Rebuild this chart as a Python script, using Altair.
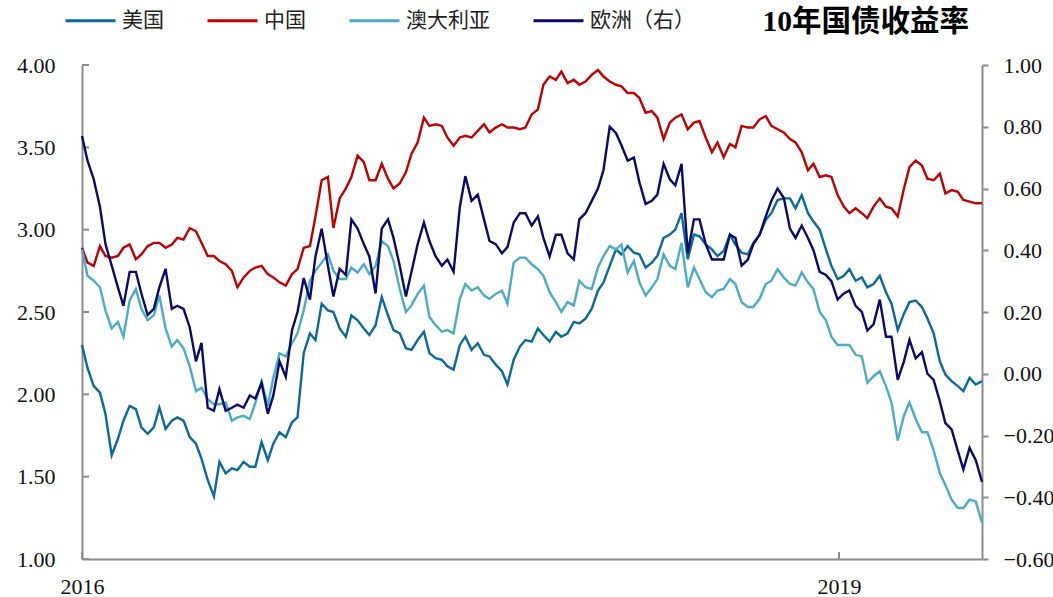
import altair as alt
import pandas as pd

# ---- data ----
dates = pd.date_range("2016-01-01", "2019-07-27", periods=151).strftime("%Y-%m-%d").tolist()

us = [2.30, 2.16, 2.05, 2.01, 1.88, 1.63, 1.73, 1.84, 1.93, 1.91,
      1.80, 1.76, 1.80, 1.92, 1.79, 1.84, 1.86, 1.84, 1.74, 1.70,
      1.61, 1.48, 1.38, 1.59, 1.52, 1.55, 1.54, 1.59, 1.56, 1.56,
      1.71, 1.60, 1.70, 1.77, 1.74, 1.83, 1.86, 2.25, 2.37, 2.33,
      2.55, 2.51, 2.50, 2.40, 2.35, 2.48, 2.45, 2.40, 2.36, 2.42,
      2.59, 2.48, 2.39, 2.37, 2.28, 2.27, 2.33, 2.38, 2.25, 2.22,
      2.21, 2.17, 2.15, 2.30, 2.35, 2.27, 2.31, 2.24, 2.23, 2.18,
      2.14, 2.06, 2.21, 2.29, 2.33, 2.32, 2.40, 2.36, 2.32, 2.38,
      2.35, 2.37, 2.44, 2.43, 2.46, 2.52, 2.63, 2.68, 2.78, 2.88,
      2.85, 2.90, 2.86, 2.85, 2.77, 2.80, 2.84, 2.95, 2.97, 3.00,
      3.10, 2.82, 2.97, 2.96, 2.91, 2.88, 2.84, 2.87, 2.97, 2.91,
      2.86, 2.85, 2.92, 2.97, 3.06, 3.10, 3.18, 3.19, 3.19, 3.13,
      3.21, 3.10, 3.05, 3.00, 2.88, 2.78, 2.70, 2.72, 2.76, 2.69,
      2.71, 2.65, 2.67, 2.72, 2.62, 2.55, 2.39, 2.49, 2.56, 2.57,
      2.53, 2.46, 2.37, 2.20, 2.12, 2.08, 2.05, 2.02, 2.10, 2.06,
      2.08]

china = [2.89, 2.80, 2.78, 2.90, 2.84, 2.83, 2.84, 2.89, 2.91, 2.82,
         2.85, 2.90, 2.92, 2.92, 2.89, 2.91, 2.95, 2.94, 3.01, 2.99,
         2.92, 2.84, 2.84, 2.81, 2.79, 2.75, 2.65, 2.71, 2.75, 2.77,
         2.78, 2.73, 2.71, 2.68, 2.66, 2.73, 2.76, 2.89, 2.90, 3.08,
         3.30, 3.32, 3.01, 3.19, 3.25, 3.32, 3.45, 3.41, 3.30, 3.30,
         3.40, 3.31, 3.25, 3.28, 3.35, 3.46, 3.53, 3.68, 3.63, 3.64,
         3.63, 3.56, 3.51, 3.56, 3.57, 3.56, 3.60, 3.64, 3.59, 3.62,
         3.64, 3.62, 3.62, 3.61, 3.62, 3.70, 3.73, 3.88, 3.93, 3.91,
         3.96, 3.89, 3.91, 3.88, 3.90, 3.94, 3.97, 3.93, 3.90, 3.88,
         3.87, 3.83, 3.83, 3.80, 3.71, 3.72, 3.68, 3.55, 3.65, 3.68,
         3.70, 3.61, 3.65, 3.66, 3.56, 3.47, 3.53, 3.44, 3.52, 3.50,
         3.63, 3.62, 3.62, 3.67, 3.69, 3.63, 3.61, 3.59, 3.55, 3.53,
         3.47, 3.36, 3.40, 3.32, 3.33, 3.32, 3.21, 3.14, 3.10, 3.13,
         3.10, 3.07, 3.14, 3.19, 3.14, 3.13, 3.08, 3.25, 3.38, 3.42,
         3.39, 3.31, 3.30, 3.34, 3.22, 3.24, 3.23, 3.18, 3.17, 3.16,
         3.16]

australia = [2.88, 2.72, 2.69, 2.65, 2.51, 2.40, 2.44, 2.35, 2.57, 2.64,
             2.52, 2.45, 2.48, 2.60, 2.40, 2.29, 2.33, 2.28, 2.17, 2.02,
             2.04, 1.97, 1.94, 1.94, 1.95, 1.84, 1.86, 1.87, 1.85, 1.95,
             2.08, 1.93, 2.10, 2.25, 2.23, 2.31, 2.37, 2.51, 2.69, 2.75,
             2.80, 2.85, 2.75, 2.70, 2.70, 2.77, 2.74, 2.79, 2.73, 2.78,
             2.93, 2.90, 2.81, 2.64, 2.50, 2.54, 2.61, 2.66, 2.47, 2.42,
             2.38, 2.39, 2.37, 2.58, 2.67, 2.63, 2.65, 2.60, 2.58, 2.61,
             2.63, 2.55, 2.80, 2.83, 2.83, 2.79, 2.76, 2.72, 2.62, 2.56,
             2.50, 2.56, 2.54, 2.69, 2.65, 2.64, 2.77, 2.84, 2.90, 2.88,
             2.91, 2.74, 2.81, 2.68, 2.60, 2.65, 2.70, 2.85, 2.78, 2.76,
             2.92, 2.65, 2.77, 2.70, 2.62, 2.59, 2.63, 2.64, 2.70, 2.67,
             2.56, 2.53, 2.53, 2.58, 2.67, 2.69, 2.76, 2.71, 2.67, 2.66,
             2.74, 2.68, 2.64, 2.50, 2.45, 2.35, 2.30, 2.30, 2.30, 2.24,
             2.23, 2.07, 2.11, 2.14, 2.05, 1.95, 1.72, 1.87, 1.95, 1.85,
             1.77, 1.77, 1.66, 1.52, 1.45, 1.36, 1.31, 1.31, 1.36, 1.35,
             1.22]

europe = [0.77, 0.69, 0.63, 0.54, 0.42, 0.35, 0.28, 0.22, 0.33, 0.33,
          0.26, 0.19, 0.21, 0.28, 0.34, 0.21, 0.22, 0.21, 0.15, 0.04,
          0.10, -0.11, -0.12, -0.05, -0.12, -0.11, -0.10, -0.11, -0.07, -0.08,
          -0.03, -0.13, -0.07, 0.04, -0.01, 0.14, 0.20, 0.31, 0.24, 0.38,
          0.47, 0.35, 0.25, 0.34, 0.32, 0.50, 0.47, 0.42, 0.38, 0.26,
          0.47, 0.50, 0.44, 0.35, 0.25, 0.33, 0.42, 0.49, 0.43, 0.38,
          0.35, 0.37, 0.33, 0.54, 0.64, 0.56, 0.58, 0.50, 0.43, 0.42,
          0.39, 0.41, 0.49, 0.52, 0.52, 0.48, 0.51, 0.44, 0.38, 0.45,
          0.45, 0.39, 0.37, 0.50, 0.52, 0.56, 0.60, 0.66, 0.80, 0.78,
          0.74, 0.69, 0.70, 0.62, 0.55, 0.56, 0.58, 0.68, 0.63, 0.61,
          0.68, 0.39, 0.50, 0.50, 0.42, 0.37, 0.37, 0.37, 0.45, 0.44,
          0.35, 0.37, 0.42, 0.45, 0.51, 0.56, 0.60, 0.57, 0.47, 0.44,
          0.48, 0.44, 0.40, 0.33, 0.32, 0.30, 0.24, 0.26, 0.27, 0.22,
          0.20, 0.14, 0.16, 0.24, 0.12, 0.12, -0.02, 0.04, 0.11, 0.05,
          0.07, 0.00, -0.02, -0.09, -0.16, -0.18, -0.25, -0.31, -0.24, -0.28,
          -0.35]

series_names = ["美国", "中国", "澳大利亚", "欧洲（右）"]
series_colors = ["#0b6a9c", "#c00000", "#4bacc6", "#0a0a6e"]
left_ticks = [1.0, 1.5, 2.0, 2.5, 3.0, 3.5, 4.0]
right_ticks = [-0.6, -0.4, -0.2, 0.0, 0.2, 0.4, 0.6, 0.8, 1.0]
x_tick_dates = ["2016-01-01", "2019-01-01"]
title_text = ["10年国债收益率"]

# ---- frames ----
left_df = pd.DataFrame({
    "date": dates * 3,
    "value": us + china + australia,
    "series": [series_names[0]] * len(us) + [series_names[1]] * len(china) + [series_names[2]] * len(australia),
})
right_df = pd.DataFrame({"date": dates, "value": europe, "series": series_names[3]})
left_tick_df = pd.DataFrame({"v": left_ticks})
x_tick_df = pd.DataFrame({"d": x_tick_dates})
title_df = pd.DataFrame({"t": title_text})

NUM_FONT = "Liberation Serif"
CJK_FONT = "Liberation Serif, Noto Sans CJK SC"
AXIS_GRAY = "#8c8c8c"

x_scale = alt.Scale(type="utc",
                    domain=[alt.DateTime(year=2016, month=1, date=1, utc=True),
                            alt.DateTime(year=2019, month=7, date=27, utc=True)])
x_axis = alt.Axis(values=[alt.DateTime(year=2016, month=1, date=1, utc=True),
                          alt.DateTime(year=2019, month=1, date=1, utc=True)],
                  format="%Y", title=None, ticks=False, grid=False,
                  labelFlush=False, labelPadding=17, labelFont=NUM_FONT,
                  labelFontSize=22, labelColor="#111111",
                  domainColor=AXIS_GRAY, domainWidth=2)

left_scale = alt.Scale(domain=[1.0, 4.0], nice=False, zero=False)
left_axis = alt.Axis(values=left_ticks, format=".2f", title=None, grid=False,
                     ticks=False, labelPadding=27, labelFont=NUM_FONT,
                     labelFontSize=22, labelColor="#111111",
                     domainColor=AXIS_GRAY, domainWidth=2)
right_scale = alt.Scale(domain=[-0.6, 1.0], nice=False, zero=False)
right_axis = alt.Axis(orient="right", values=right_ticks, format=".2f", title=None,
                      grid=False, tickSize=6, tickWidth=2, tickColor=AXIS_GRAY,
                      labelPadding=15, labelFont=NUM_FONT, labelFontSize=22,
                      labelColor="#111111", domainColor=AXIS_GRAY, domainWidth=2)

legend = alt.Legend(title=None, orient="none", legendX=-18, legendY=-71,
                    direction="horizontal", symbolType="stroke", symbolSize=2500,
                    symbolStrokeWidth=3, labelFont=CJK_FONT, labelFontSize=21,
                    labelColor="#222222", columnPadding=37, labelOffset=5,
                    padding=0, labelLimit=300)
color = alt.Color("series:N", scale=alt.Scale(domain=series_names, range=series_colors),
                  sort=series_names, legend=legend)

left_lines = alt.Chart(left_df).mark_line(strokeWidth=2.4).encode(
    x=alt.X("date:T", scale=x_scale, axis=x_axis),
    y=alt.Y("value:Q", scale=left_scale, axis=left_axis),
    color=color,
)
left_tick_rules = alt.Chart(left_tick_df).mark_rule(color=AXIS_GRAY, strokeWidth=2).encode(
    y=alt.Y("v:Q", scale=left_scale, axis=left_axis),
    x=alt.value(0), x2=alt.value(7),
)
x_tick_rules = alt.Chart(x_tick_df).mark_rule(color=AXIS_GRAY, strokeWidth=2).encode(
    x=alt.X("d:T", scale=x_scale, axis=x_axis),
    y=alt.value(487), y2=alt.value(494),
)
title_mark = alt.Chart(title_df).mark_text(
    align="right", baseline="middle", font=CJK_FONT, fontSize=29.5,
    fontWeight="bold", color="#000000",
).encode(text="t:N", x=alt.value(887), y=alt.value(-43))

left_group = alt.layer(left_lines, left_tick_rules, x_tick_rules, title_mark)

right_line = alt.Chart(right_df).mark_line(strokeWidth=2.4).encode(
    x=alt.X("date:T", scale=x_scale, axis=x_axis),
    y=alt.Y("value:Q", scale=right_scale, axis=right_axis),
    color=color,
)

chart = alt.layer(left_group, right_line).resolve_scale(y="independent").properties(
    width=900, height=494,
    autosize=alt.AutoSizeParams(type="none"),
    padding={"left": 82, "top": 65, "right": 71, "bottom": 38},
    background="white",
).configure_view(stroke=None)

chart.save("out.html", embed_options={"renderer": "svg", "actions": False})
